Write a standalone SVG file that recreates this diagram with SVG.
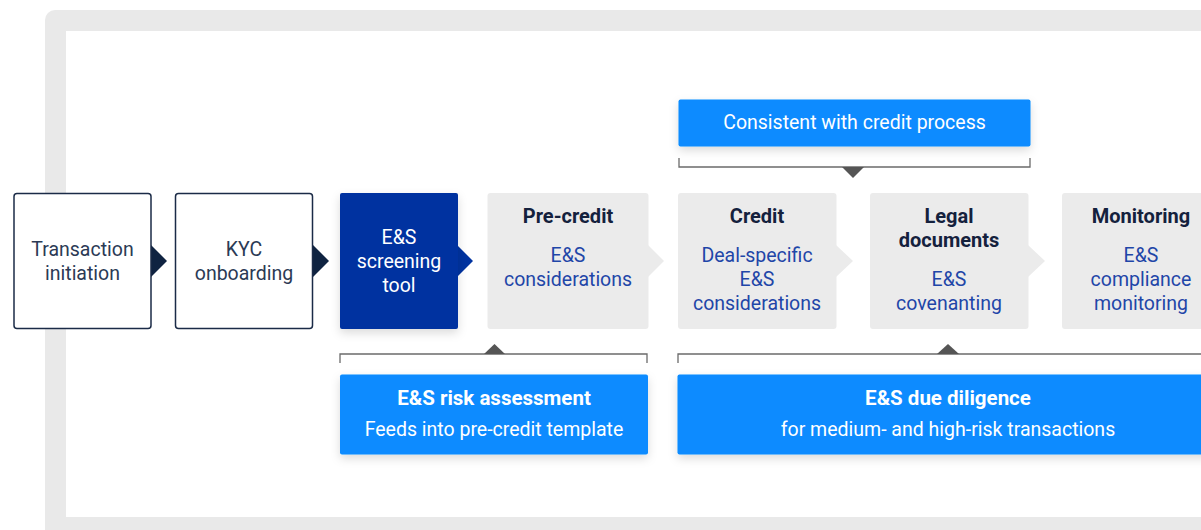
<svg xmlns="http://www.w3.org/2000/svg" width="1201" height="530" viewBox="0 0 1201 530">
<defs>
<filter id="sh" x="-20%" y="-30%" width="140%" height="170%">
<feDropShadow dx="0" dy="4" stdDeviation="5" flood-color="#000" flood-opacity="0.14"/>
</filter>
</defs>
<style>
text{font-family:Roboto,"Liberation Sans",Arial,sans-serif;font-size:19.5px;text-anchor:middle}
.dk{fill:#2b3a55}
.wt{fill:#ffffff}
.tt{fill:#14213d;font-weight:bold;font-size:20px}
.sb{fill:#1f46a8}
.wb{fill:#ffffff;font-weight:bold;font-size:20.5px}
.outline{fill:#ffffff;stroke:#1b2b47;stroke-width:1.5}
.grey{fill:#ebebeb}
.call{fill:#0a8bff}
.br{fill:none;stroke:#6b6b6b;stroke-width:1.3}
.tri{fill:#555555}
</style>
<g id="frame">
<rect x="45" y="10" width="1200" height="560" rx="10" fill="#e9e9e9"/>
<rect x="66" y="31" width="1180" height="486" fill="#ffffff"/>
</g>
<g id="connectors">
<polygon points="151,245 167,261 151,277" fill="#0f2341"/>
<polygon points="313,245 329,261 313,277" fill="#0f2341"/>
<polygon points="457,245 473,261 457,277" fill="#0033a0"/>
<polygon points="648,245 664,261 648,277" fill="#ebebeb"/>
<polygon points="836,245 853,261 836,277" fill="#ebebeb"/>
<polygon points="1028,245 1045,261 1028,277" fill="#ebebeb"/>
<path class="br" d="M679,158 V167 H1030 V158"/>
<polygon class="tri" points="842,167 864,167 853,178"/>
<path class="br" d="M340,363 V354 H647 V363"/>
<polygon class="tri" points="484,354 505,354 494.5,344"/>
<path class="br" d="M678,363 V354 H1210"/>
<polygon class="tri" points="937,354 959,354 948,344"/>
</g>
<g id="n1">
<rect class="outline" x="14" y="193.5" width="137" height="135" rx="3"/>
<text class="dk" x="82.5" y="255.5">Transaction</text>
<text class="dk" x="82.5" y="279.5">initiation</text>
</g>
<g id="n2">
<rect class="outline" x="175.5" y="193.5" width="137" height="135" rx="3"/>
<text class="dk" x="244" y="255.5">KYC</text>
<text class="dk" x="244" y="279.5">onboarding</text>
</g>
<g id="n3">
<rect x="340" y="193" width="118" height="136" rx="2" fill="#0033a0" filter="url(#sh)"/>
<text class="wt" x="399" y="243.5">E&amp;S</text>
<text class="wt" x="399" y="267.5">screening</text>
<text class="wt" x="399" y="291.5">tool</text>
</g>
<g id="n4">
<rect class="grey" x="487.5" y="193" width="161" height="136" rx="3"/>
<text class="tt" x="568" y="222.5">Pre-credit</text>
<text class="sb" x="568" y="261.5">E&amp;S</text>
<text class="sb" x="568" y="285.5">considerations</text>
</g>
<g id="n5">
<rect class="grey" x="678" y="193" width="158.5" height="136" rx="3"/>
<text class="tt" x="757" y="222.5">Credit</text>
<text class="sb" x="757" y="261.5">Deal-specific</text>
<text class="sb" x="757" y="285.5">E&amp;S</text>
<text class="sb" x="757" y="309.5">considerations</text>
</g>
<g id="n6">
<rect class="grey" x="870" y="193" width="158.5" height="136" rx="3"/>
<text class="tt" x="949" y="222.5">Legal</text>
<text class="tt" x="949" y="246.5">documents</text>
<text class="sb" x="949" y="285.5">E&amp;S</text>
<text class="sb" x="949" y="309.5">covenanting</text>
</g>
<g id="n7">
<rect class="grey" x="1062" y="193" width="160" height="136" rx="3"/>
<text class="tt" x="1141" y="222.5">Monitoring</text>
<text class="sb" x="1141" y="261.5">E&amp;S</text>
<text class="sb" x="1141" y="285.5">compliance</text>
<text class="sb" x="1141" y="309.5">monitoring</text>
</g>
<g id="c1">
<rect class="call" x="678.5" y="99.5" width="352" height="47" rx="2" filter="url(#sh)"/>
<text class="wt" x="854.5" y="128.5">Consistent with credit process</text>
</g>
<g id="c2">
<rect class="call" x="340" y="374.5" width="308" height="80" rx="2" filter="url(#sh)"/>
<text class="wb" x="494" y="405">E&amp;S risk assessment</text>
<text class="wt" x="494" y="435.5">Feeds into pre-credit template</text>
</g>
<g id="c3">
<rect class="call" x="677.5" y="374.5" width="542" height="80" rx="2" filter="url(#sh)"/>
<text class="wb" x="948" y="405">E&amp;S due diligence</text>
<text class="wt" x="948" y="435.5">for medium- and high-risk transactions</text>
</g>
</svg>
